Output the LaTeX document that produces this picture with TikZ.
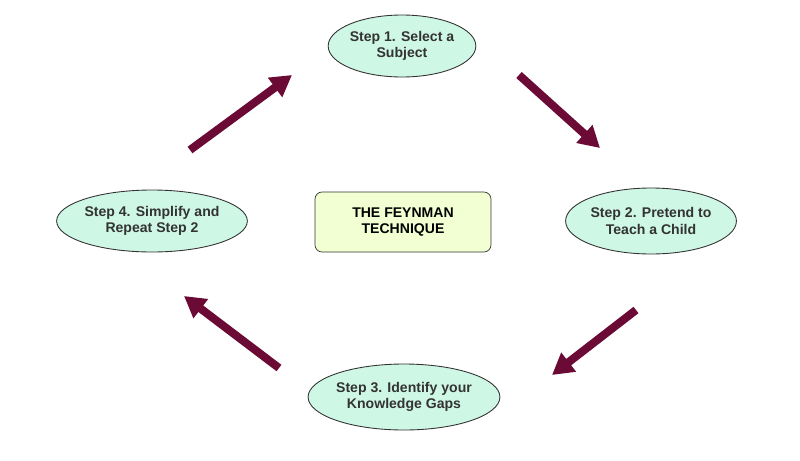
\documentclass[tikz,border=0pt]{standalone}
\usepackage{fontspec}
\setmainfont{Liberation Sans}
\usetikzlibrary{shapes.geometric,arrows.meta}
\definecolor{ellfill}{HTML}{CFF7E6}
\definecolor{boxfill}{HTML}{F2FFD2}
\definecolor{arrowc}{HTML}{6B0A35}
\definecolor{txt}{HTML}{333333}
\begin{document}
\begin{tikzpicture}[x=0.02cm,y=-0.02cm,
  stepnode/.style={ellipse,draw=black!80,fill=ellfill,line width=0.5pt,inner sep=0pt,align=center,font=\fontsize{8}{9.5}\selectfont\bfseries,text=txt},
  bigarrow/.style={draw=arrowc,line width=4.6pt,-{Triangle[length=12pt,width=13pt]}}]
\useasboundingbox[fill=white] (0,0) rectangle (800,460);
\node[stepnode,minimum width=138\pgflinewidth*0+2.76cm,minimum height=1.24cm] (s1) at (402,46) {Step 1. Select a\\Subject};
\node[stepnode,minimum width=2.92cm,minimum height=1.32cm] (s2) at (651,221) {Step 2. Pretend to\\Teach a Child};
\node[stepnode,minimum width=3.52cm,minimum height=1.32cm] (s3) at (404,397) {Step 3. Identify your\\Knowledge Gaps};
\node[stepnode,minimum width=3.0cm,minimum height=1.24cm] (s4) at (152,221) {Step 4. Simplify and\\Repeat Step 2};
\node[draw=black!80,fill=boxfill,rounded corners=4pt,minimum width=3.52cm,minimum height=1.2cm,align=center,font=\fontsize{8}{9.5}\selectfont\bfseries,text=black] (c) at (403,222) {THE FEYNMAN\\TECHNIQUE};
\coordinate (a1s) at (190,150); \coordinate (a1e) at (292,75);
\coordinate (a2s) at (519,75); \coordinate (a2e) at (600,148);
\coordinate (a3s) at (636,310); \coordinate (a3e) at (552,375);
\coordinate (a4s) at (279,368); \coordinate (a4e) at (184,296);
\foreach \s/\e in {a1s/a1e,a2s/a2e,a3s/a3e,a4s/a4e}
  \draw[bigarrow] (\s) -- (\e);
\end{tikzpicture}
\end{document}
